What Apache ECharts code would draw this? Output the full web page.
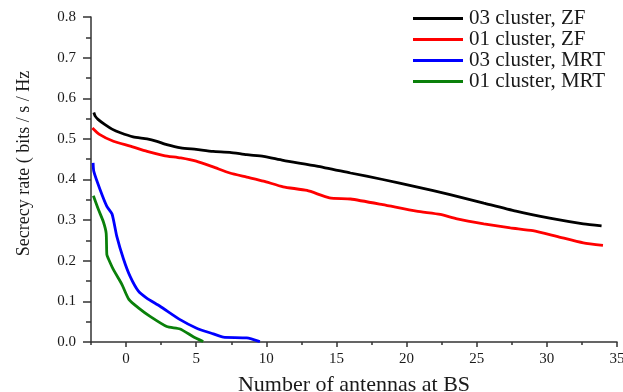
<!DOCTYPE html>
<html>
<head>
<meta charset="utf-8">
<script src="https://cdn.jsdelivr.net/npm/echarts@6/dist/echarts.min.js"></script>
<style>
  html, body { margin: 0; padding: 0; background: #fff; }
  #chart { width: 623px; height: 392px; }
</style>
</head>
<body>
<div id="chart"></div>
<script>
// series names (legend order)
const seriesNames = ['03 cluster, ZF', '01 cluster, ZF', '03 cluster, MRT', '01 cluster, MRT']

// 03 cluster, ZF
const zf03X = [-2.3, -2.2, -2.0, -1.5, -1.0, -0.4, 0.5, 1.5, 2.2, 2.9, 3.9, 5.0, 6.2, 7.4, 8.6, 9.8, 11.2, 13.6, 16.0, 18.3, 20.7, 23.1, 25.5, 27.8, 30.2, 32.6, 33.9]
const zf03Y = [0.565, 0.556, 0.548, 0.535, 0.524, 0.515, 0.505, 0.500, 0.494, 0.486, 0.478, 0.474, 0.469, 0.467, 0.461, 0.457, 0.447, 0.433, 0.416, 0.400, 0.382, 0.363, 0.342, 0.322, 0.305, 0.291, 0.286]

// 01 cluster, ZF
const zf01X = [-2.4, -1.9, -0.9, 0.3, 1.5, 2.7, 3.9, 5.0, 6.2, 7.4, 8.6, 9.8, 11.2, 12.9, 14.5, 16.0, 18.3, 20.7, 22.4, 23.6, 25.5, 27.4, 29.0, 30.7, 32.6, 34.0]
const zf01Y = [0.527, 0.511, 0.494, 0.482, 0.469, 0.459, 0.453, 0.445, 0.431, 0.416, 0.406, 0.396, 0.382, 0.373, 0.355, 0.352, 0.338, 0.322, 0.314, 0.303, 0.291, 0.281, 0.274, 0.260, 0.244, 0.238]

// 03 cluster, MRT
const mrt03X = [-2.35, -2.3, -1.85, -1.37, -1.0, -0.66, -0.19, 0.28, 0.88, 1.47, 2.42, 3.85, 5.03, 6.22, 6.93, 8.6, 9.54]
const mrt03Y = [0.441, 0.420, 0.375, 0.334, 0.315, 0.260, 0.205, 0.162, 0.125, 0.108, 0.088, 0.055, 0.034, 0.020, 0.012, 0.010, 0.001]

// 01 cluster, MRT
const mrt01X = [-2.33, -1.97, -1.62, -1.42, -1.37, -1.26, -0.9, -0.3, 0.2, 0.88, 1.71, 2.9, 3.85, 4.79, 5.5]
const mrt01Y = [0.360, 0.326, 0.296, 0.268, 0.215, 0.205, 0.178, 0.142, 0.105, 0.084, 0.063, 0.038, 0.032, 0.013, 0.001]

// axis ticks
const xLabelValues = [0, 5, 10, 15, 20, 25, 30, 35]
const xMinorValues = [-2.5, 2.5, 7.5, 12.5, 17.5, 22.5, 27.5, 32.5]

const colors = ['#000000', '#ff0000', '#0000ff', '#0a800a']
const serif = '"Liberation Serif", "DejaVu Serif", serif'
const textColor = '#1a1a1a'
const axisColor = '#333'

function zip(xs, ys) {
  return xs.map((x, i) => [x, ys[i]])
}

const seriesData = [zip(zf03X, zf03Y), zip(zf01X, zf01Y), zip(mrt03X, mrt03Y), zip(mrt01X, mrt01Y)]

const chart = echarts.init(document.getElementById('chart'), null, { renderer: 'canvas' })

const option = {
  backgroundColor: '#fff',
  animation: false,
  color: colors,
  grid: { left: 91, right: 6, top: 17, bottom: 50, containLabel: false, outerBoundsMode: 'none' },
  legend: {
    orient: 'vertical',
    left: 413,
    top: 8,
    padding: 0,
    icon: 'rect',
    itemWidth: 50,
    itemHeight: 3,
    itemGap: 0,
    textStyle: { fontFamily: serif, fontSize: 21, lineHeight: 18, color: textColor, padding: [0, 0, 0, 1] },
    data: seriesNames
  },
  xAxis: [
    {
      type: 'value',
      min: -2.5,
      max: 35,
      name: 'Number of antennas at BS',
      nameLocation: 'middle',
      nameGap: 32,
      nameTextStyle: { fontFamily: serif, fontSize: 22, color: textColor },
      axisLine: { onZero: false, lineStyle: { color: axisColor, width: 1.5 } },
      axisTick: { show: true, length: 5, customValues: xLabelValues, lineStyle: { color: axisColor, width: 1.5 } },
      axisLabel: { customValues: xLabelValues, margin: 10, fontFamily: serif, fontSize: 15, color: textColor },
      splitLine: { show: false }
    },
    {
      // minor ticks only
      type: 'value',
      position: 'bottom',
      min: -2.5,
      max: 35,
      axisLine: { show: false, onZero: false },
      axisTick: { show: true, length: 3, customValues: xMinorValues, lineStyle: { color: axisColor, width: 1.5 } },
      axisLabel: { show: false },
      splitLine: { show: false }
    }
  ],
  yAxis: {
    type: 'value',
    min: 0,
    max: 0.8,
    interval: 0.1,
    name: 'Secrecy rate ( bits / s / Hz',
    nameLocation: 'middle',
    nameGap: 58,
    nameTextStyle: { fontFamily: serif, fontSize: 18, color: textColor, padding: [0, 0, 0, 32] },
    axisLine: { show: true, onZero: false, lineStyle: { color: axisColor, width: 1.5 } },
    axisTick: { show: true, length: 8, lineStyle: { color: axisColor, width: 1.5 } },
    minorTick: { show: true, splitNumber: 2, length: 5, lineStyle: { color: axisColor, width: 1.5 } },
    axisLabel: {
      margin: 15,
      fontFamily: serif,
      fontSize: 15,
      color: textColor,
      formatter: (v) => v.toFixed(1)
    },
    splitLine: { show: false }
  },
  series: seriesNames.map((name, i) => ({
    name,
    type: 'line',
    xAxisIndex: 0,
    data: seriesData[i],
    symbol: 'none',
    smooth: 0.2,
    lineStyle: { width: 2.8, color: colors[i] },
    z: 10 - i
  }))
}

chart.setOption(option)
</script>
</body>
</html>
